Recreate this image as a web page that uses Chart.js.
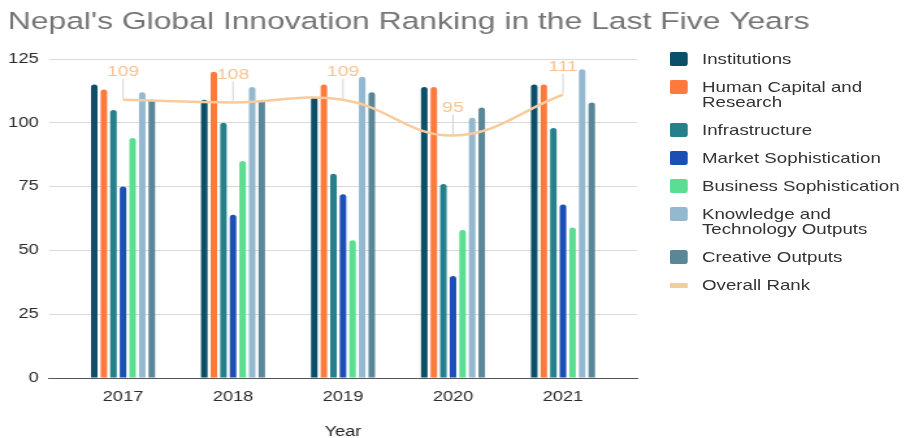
<!DOCTYPE html>
<html>
<head>
<meta charset="utf-8">
<script src="https://cdn.jsdelivr.net/npm/chart.js@4.4.1/dist/chart.umd.min.js"></script>
<style>
  html, body { margin: 0; padding: 0; background: #fff; overflow: hidden; width: 906px; height: 438px; }
  /* the reference is stretched horizontally, so draw narrow and widen */
  #wrap { position: relative; width: 697px; height: 438px; transform: scaleX(1.3); transform-origin: 0 0;
          font-family: 'Liberation Sans', Arial, sans-serif; }
  #legend { position: absolute; left: 514.6px; top: 51.5px; width: 185px; font-size: 14.4px; line-height: 15px; color: #333; }
  .item { display: flex; align-items: flex-start; margin-bottom: 13px; }
  .sw { width: 14px; height: 14px; border-radius: 2px; margin-top: 0.5px; flex: none; }
  .sw.line { height: 5px; margin-top: 5px; border-radius: 0; }
  .txt { margin-left: 11.4px; width: 158px; }
</style>
</head>
<body>
<div id="wrap">
  <canvas id="myChart"></canvas>
  <div id="legend"></div>
</div>
<script>
const years = [2017, 2018, 2019, 2020, 2021]
const institutions = [115, 109, 110, 114, 115]
const humanCapital = [113, 120, 115, 114, 115]
const infrastructure = [105, 100, 80, 76, 98]
const marketSoph = [75, 64, 72, 40, 68]
const businessSoph = [94, 85, 54, 58, 59]
const knowledgeTech = [112, 114, 118, 102, 121]
const creativeOutputs = [109, 109, 112, 106, 108]
const overallRank = [109, 108, 109, 95, 111]

const barNames = [
    'Institutions',
    'Human Capital and Research',
    'Infrastructure',
    'Market Sophistication',
    'Business Sophistication',
    'Knowledge and Technology Outputs',
    'Creative Outputs',
]
const barValues = [institutions, humanCapital, infrastructure, marketSoph, businessSoph, knowledgeTech, creativeOutputs]
const barColors = ['#0b4f69', '#fe7a3c', '#26808c', '#1b4fb5', '#5bde91', '#93b8cf', '#5a8798']
const lineName = 'Overall Rank'
const lineColor = '#f9cb9c'

const datasets = barNames.map((name, i) => ({
    type: 'bar',
    label: name,
    data: barValues[i],
    backgroundColor: barColors[i],
    borderRadius: { topLeft: 3, topRight: 3, bottomLeft: 0, bottomRight: 0 },
    borderSkipped: false,
    categoryPercentage: 0.61,
    barPercentage: 0.68,
}))
datasets.push({
    type: 'line',
    label: lineName,
    data: overallRank,
    borderColor: lineColor,
    borderWidth: 2.5,
    pointRadius: 0,
    tension: 0.4,
    order: -1,
})

// value labels with a small leader above each rank point
const rankLabels = {
    id: 'rankLabels',
    afterDatasetsDraw(chart) {
        const meta = chart.getDatasetMeta(datasets.length - 1)
        const ctx = chart.ctx
        ctx.save()
        meta.data.forEach((pt, j) => {
            ctx.strokeStyle = '#d4d4d4'
            ctx.lineWidth = 1
            ctx.beginPath()
            ctx.moveTo(pt.x, pt.y - 1)
            ctx.lineTo(pt.x, pt.y - 21)
            ctx.stroke()
            ctx.fillStyle = '#f8c291'
            ctx.font = '15px "Liberation Sans", Arial, sans-serif'
            ctx.textAlign = 'center'
            ctx.textBaseline = 'middle'
            ctx.fillText(String(overallRank[j]), pt.x, pt.y - 28)
        })
        ctx.restore()
    },
}

const font = "'Liberation Sans', Arial, sans-serif"
const ctx = document.getElementById('myChart')
const chart = new Chart(ctx, {
    data: { labels: years, datasets: datasets },
    options: {
        responsive: true,
        maintainAspectRatio: false,
        animation: false,
        layout: { padding: { left: 6, right: 0, top: 0, bottom: 0 } },
        plugins: {
            legend: { display: false },
            tooltip: { enabled: false },
            title: {
                display: true,
                text: "Nepal's Global Innovation Ranking in the Last Five Years",
                align: 'start',
                color: '#757575',
                font: { family: font, size: 24.5, weight: 'normal' },
                padding: { top: 8, bottom: 21.6 },
            },
        },
        scales: {
            x: {
                type: 'linear',
                bounds: 'data',
                offset: false,
                min: years[0] - 0.673,
                max: years[years.length - 1] + 0.673,
                afterBuildTicks: (s) => { s.ticks = years.map((v) => ({ value: v })) },
                afterFit: (s) => { s.height = 60 },
                grid: { display: false, drawTicks: false, offset: false },
                border: { display: true, color: '#555', width: 1 },
                ticks: {
                    padding: 11,
                    color: '#2a2a2a',
                    font: { family: font, size: 14 },
                    callback: (v) => String(v),
                },
                title: {
                    display: true,
                    text: 'Year',
                    color: '#222',
                    font: { family: font, size: 14, lineHeight: 0.8 },
                    padding: 0,
                },
            },
            y: {
                min: 0,
                max: 125,
                afterFit: (s) => { s.width = 31.7 },
                ticks: {
                    stepSize: 25,
                    padding: 8,
                    color: '#2a2a2a',
                    font: { family: font, size: 14 },
                },
                grid: { color: '#dadada', drawTicks: false },
                border: { display: false },
            },
            // empty right axis that keeps room for the legend
            yRight: {
                position: 'right',
                afterFit: (s) => { s.width = 207 },
                grid: { display: false, drawTicks: false },
                ticks: { display: false },
                border: { display: false },
            },
        },
    },
    plugins: [rankLabels],
})

// html legend so long names can wrap like the original
const legend = document.getElementById('legend')
barNames.concat([lineName]).forEach((name, i) => {
    const item = document.createElement('div')
    item.className = 'item'
    const sw = document.createElement('div')
    sw.className = i < barNames.length ? 'sw' : 'sw line'
    sw.style.background = i < barNames.length ? barColors[i] : lineColor
    const txt = document.createElement('div')
    txt.className = 'txt'
    txt.textContent = name
    item.appendChild(sw)
    item.appendChild(txt)
    legend.appendChild(item)
})
</script>
</body>
</html>
